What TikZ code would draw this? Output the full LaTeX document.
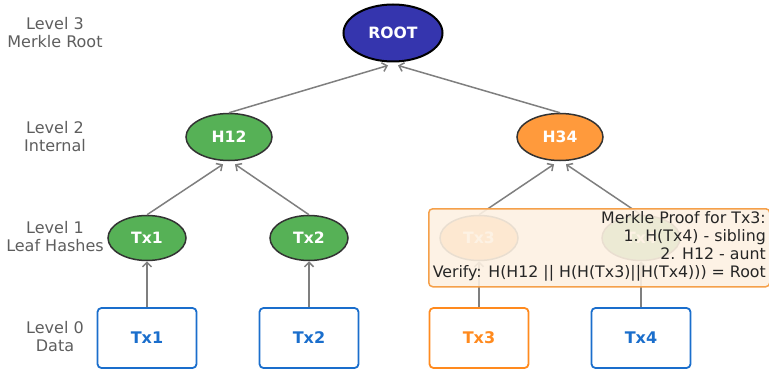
\documentclass[tikz,border=0pt]{standalone}
\usepackage{fontspec}
\setmainfont{DejaVu Sans}
\usetikzlibrary{arrows.meta,shapes.geometric}
\definecolor{edgegray}{HTML}{7F7F7F}
\definecolor{lvlgray}{HTML}{5E5E5E}
\definecolor{rootblue}{HTML}{3535AE}
\definecolor{hgreen}{HTML}{56B156}
\definecolor{horange}{HTML}{FF9A3C}
\definecolor{txblue}{HTML}{1A6ECC}
\definecolor{txorange}{HTML}{FF8A1E}
\definecolor{proofedge}{HTML}{F5A04A}
\definecolor{prooffill}{HTML}{FDF1E2}
\begin{document}
\begin{tikzpicture}[x=1pt,y=-1pt,
  every node/.style={font=\fontsize{16}{18}\selectfont},
  hashnode/.style={ellipse, draw=black!80, line width=1.5pt, text=white,
    font=\fontsize{15.6}{18}\selectfont\bfseries, inner sep=0pt,
    minimum width=86pt, minimum height=47pt},
  leafnode/.style={hashnode, minimum width=78pt, minimum height=45pt},
  rootnode/.style={hashnode, fill=rootblue, draw=black, line width=2pt,
    minimum width=99pt, minimum height=57pt},
  databox/.style={rectangle, rounded corners=4pt, draw=txblue, line width=1.8pt,
    fill=white, text=txblue, font=\fontsize{16}{18}\selectfont\bfseries,
    minimum width=99pt, minimum height=60pt, inner sep=0pt},
  lvl/.style={text=lvlgray, align=center},
  conn/.style={draw=edgegray, line width=1.5pt,
    -{Straight Barb[length=4.5pt,width=9pt]}}
]
\useasboundingbox (0,0) rectangle (769,369);

% level labels
\node[lvl] (l3) at (55,33) {Level 3\\Merkle Root};
\node[lvl] (l2) at (55,137) {Level 2\\Internal};
\node[lvl] (l1) at (55,237) {Level 1\\Leaf Hashes};
\node[lvl] (l0) at (55,337) {Level 0\\Data};

% tree nodes
\node[rootnode] (root) at (393,33) {ROOT};
\node[hashnode, fill=hgreen] (h12) at (229,137) {H12};
\node[hashnode, fill=horange] (h34) at (560,137) {H34};
\node[leafnode, fill=hgreen] (leaf1) at (147,238) {Tx1};
\node[leafnode, fill=hgreen] (leaf2) at (309,238) {Tx2};
\node[leafnode, fill=horange] (leaf3) at (479,238) {Tx3};
\node[leafnode, fill=hgreen] (leaf4) at (641,238) {Tx4};

\node[databox] (d1) at (147,338) {Tx1};
\node[databox] (d2) at (309,338) {Tx2};
\node[databox, draw=txorange, text=txorange] (d3) at (479,338) {Tx3};
\node[databox] (d4) at (641,338) {Tx4};

% connectors
\draw[conn] (h12.north) -- ([xshift=-5pt,yshift=-3pt]root.south);
\draw[conn] (h34.north) -- ([xshift=5pt,yshift=-3pt]root.south);
\draw[conn] (leaf1.north) -- ([xshift=-6pt,yshift=-3pt]h12.south);
\draw[conn] (leaf2.north) -- ([xshift=6pt,yshift=-3pt]h12.south);
\draw[conn] (leaf3.north) -- ([xshift=-6pt,yshift=-3pt]h34.south);
\draw[conn] (leaf4.north) -- ([xshift=6pt,yshift=-3pt]h34.south);
\draw[conn] (d1.north) -- (leaf1.south);
\draw[conn] (d2.north) -- (leaf2.south);
\draw[conn] (d3.north) -- (leaf3.south);
\draw[conn] (d4.north) -- (leaf4.south);

% proof box
\node[rectangle, rounded corners=4pt, draw=proofedge, line width=1.5pt,
  fill=prooffill, fill opacity=0.9, text opacity=1, text=black!85,
  minimum width=341pt, minimum height=78pt, anchor=north west, inner sep=0pt]
  (proof) at (428,208) {};
\node[align=right, anchor=east, text=black!85, inner sep=0pt,
  font=\fontsize{15.8}{18}\selectfont] (prooftext) at (766,246)
  {Merkle Proof for Tx3:\\1. H(Tx4) - sibling\\2. H12 - aunt\\Verify: H(H12 || H(H(Tx3)||H(Tx4))) = Root};
\end{tikzpicture}
\end{document}
